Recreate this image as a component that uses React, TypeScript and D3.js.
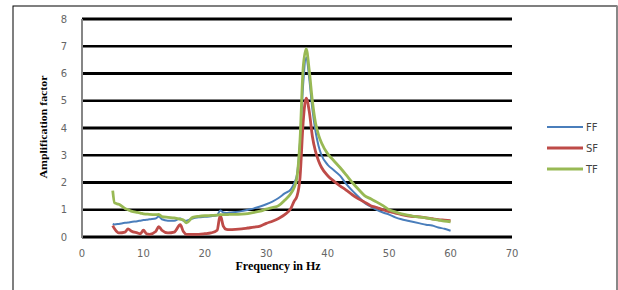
import React from 'react';
import * as d3 from 'd3';

const freq = [5, 5.3, 6, 7, 7.5, 8, 9, 9.5, 10, 10.5, 11, 12, 12.5, 13, 14, 15, 16, 16.5, 17, 18, 19, 20, 21, 22, 22.5, 23, 23.5, 24, 25, 26, 27, 28, 29, 30, 31, 32, 33, 34, 34.5, 35, 35.5, 36, 36.5, 37, 37.5, 38, 38.5, 39, 40, 41, 42, 43, 44, 45, 46, 47, 48, 49, 50, 51, 52, 53, 54, 55, 56, 57, 58, 59, 60];

const ff = [0.48, 0.46, 0.48, 0.52, 0.53, 0.55, 0.58, 0.6, 0.62, 0.63, 0.65, 0.68, 0.75, 0.65, 0.6, 0.6, 0.68, 0.6, 0.6, 0.68, 0.72, 0.74, 0.76, 0.8, 0.97, 0.9, 0.88, 0.9, 0.92, 0.95, 1.0, 1.05, 1.12, 1.2, 1.3, 1.43, 1.6, 1.75, 1.95, 2.3, 3.5, 5.6, 6.6, 5.8, 4.7, 3.9, 3.35, 3.0, 2.65, 2.45, 2.25, 1.95, 1.7, 1.48, 1.25, 1.12, 1.0, 0.9, 0.82, 0.72, 0.65, 0.6, 0.55, 0.5, 0.45, 0.42, 0.35, 0.3, 0.23];

const sf = [0.42, 0.3, 0.15, 0.18, 0.3, 0.22, 0.15, 0.12, 0.25, 0.12, 0.1, 0.2, 0.38, 0.25, 0.15, 0.18, 0.45, 0.2, 0.1, 0.1, 0.1, 0.12, 0.15, 0.25, 0.8, 0.4, 0.28, 0.27, 0.28, 0.3, 0.33, 0.36, 0.4, 0.5, 0.58, 0.68, 0.82, 1.05, 1.3, 1.5, 2.2, 4.2, 5.1, 4.6, 3.7, 3.15, 2.8, 2.55, 2.25, 2.05, 1.88, 1.72, 1.55, 1.4, 1.28, 1.15, 1.08, 1.0, 0.93, 0.88, 0.82, 0.78, 0.75, 0.74, 0.7, 0.67, 0.64, 0.62, 0.6];

const tf = [1.7, 1.25, 1.2, 1.05, 1.0, 0.95, 0.9, 0.88, 0.85, 0.84, 0.83, 0.82, 0.83, 0.75, 0.72, 0.7, 0.65, 0.62, 0.52, 0.72, 0.76, 0.78, 0.79, 0.8, 0.82, 0.82, 0.82, 0.83, 0.83, 0.84, 0.86, 0.9, 0.95, 1.02, 1.08, 1.15, 1.35, 1.6, 1.8, 2.2, 3.6, 6.2, 6.9, 6.1, 5.0, 4.2, 3.75, 3.45, 3.05, 2.8, 2.55, 2.28, 2.0, 1.75, 1.52, 1.4, 1.28, 1.15, 1.0, 0.92, 0.85, 0.8, 0.76, 0.73, 0.7, 0.66, 0.62, 0.58, 0.56];

const seriesNames = ['FF', 'SF', 'TF'];
const seriesColors = ['#4a7ebb', '#be4b48', '#98b954'];
const xTicks = [0, 10, 20, 30, 40, 50, 60, 70];
const yTicks = [0, 1, 2, 3, 4, 5, 6, 7, 8];

export default function App() {
  const width = 618, height = 290;
  const left = 82, right = 512, top = 19, bottom = 237;

  const x = d3.scaleLinear().domain([0, 70]).range([left, right]);
  const y = d3.scaleLinear().domain([0, 8]).range([bottom, top]);

  const line = d3.line<number>()
    .x((d, i) => x(freq[i]))
    .y(d => y(d))
    .curve(d3.curveMonotoneX);

  const series = [ff, sf, tf];

  return (
    <svg width={width} height={height} style={{ position: 'absolute', left: 0, top: 0, background: '#fff' }}>
      <rect x={13} y={6} width={604} height={300} fill="#fff" stroke="#000" strokeWidth={1} />
      <line x1={617} x2={617} y1={6} y2={290} stroke="#888" strokeWidth={2} />

      {yTicks.map(t => (
        <g key={t}>
          <line x1={left} x2={right} y1={y(t)} y2={y(t)} stroke="#000" strokeWidth={t % 2 === 0 ? 3 : 2.5} />
          <text x={67} y={y(t)} dy="0.35em" textAnchor="end" fontSize={10}
            fontFamily="'DejaVu Sans', sans-serif" fill="#666">{t}</text>
        </g>
      ))}
      <line x1={left} x2={left} y1={top} y2={bottom + 1} stroke="#868686" strokeWidth={2} />

      {xTicks.map(t => (
        <text key={t} x={x(t)} y={253} dy="0.35em" textAnchor="middle" fontSize={10}
          fontFamily="'DejaVu Sans', sans-serif" fill="#666">{t}</text>
      ))}

      {series.map((s, i) => (
        <path key={i} d={line(s) || ''} fill="none" stroke={seriesColors[i]}
          strokeWidth={i === 0 ? 2 : 2.8} strokeLinejoin="round" />
      ))}

      {seriesNames.map((n, i) => (
        <g key={n} transform={`translate(0,${127 + i * 21})`}>
          <line x1={547} x2={583} y1={0} y2={0} stroke={seriesColors[i]} strokeWidth={i === 0 ? 2 : 2.8} />
          <text x={586} y={0} dy="0.35em" fontSize={10} fontFamily="'DejaVu Sans', sans-serif" fill="#444">{n}</text>
        </g>
      ))}

      <text x={278} y={270} textAnchor="middle" fontSize={12} fontWeight="bold"
        fontFamily="'Liberation Serif', serif" fill="#000">Frequency in Hz</text>
      <text transform="translate(47,127) rotate(-90)" textAnchor="middle" fontSize={11} fontWeight="bold"
        fontFamily="'Liberation Serif', serif" fill="#000" textLength={103} lengthAdjust="spacingAndGlyphs">Amplification factor</text>
    </svg>
  );
}
